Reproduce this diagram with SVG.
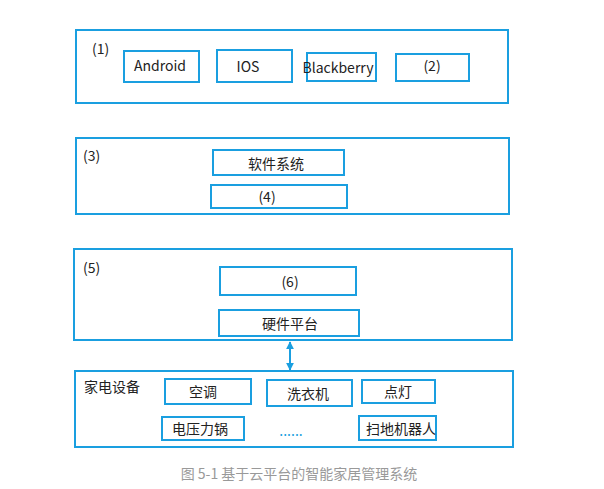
<svg xmlns="http://www.w3.org/2000/svg" width="604" height="489" viewBox="0 0 604 489">
<defs>
<style>
rect{fill:#fff;stroke:#1a9fe0;stroke-width:2}
text{font-family:"Noto Sans CJK SC","Noto Sans",sans-serif;fill:#222;font-size:14px}
.c{text-anchor:middle}
</style>
<marker id="a" viewBox="0 0 10 10" refX="9" refY="5" markerWidth="4" markerHeight="4" orient="auto-start-reverse"><path d="M0 0L10 5L0 10z" fill="#1a9fe0"/></marker>
</defs>
<rect width="604" height="489" style="stroke:none"/>
<g id="g1"><rect x="76" y="30" width="432" height="73"/><text x="92" y="54" font-size="12">(1)</text></g>
<g id="android"><rect x="124" y="51" width="75" height="31"/><text class="c" x="160" y="71">Android</text></g>
<g id="ios"><rect x="217" y="50" width="75" height="32"/><text class="c" x="248" y="72">IOS</text></g>
<g id="bb"><rect x="307" y="53" width="69" height="28"/><text class="c" x="338" y="73" font-size="11">Blackberry</text></g>
<g id="n2"><rect x="396" y="54" width="73" height="27"/><text class="c" x="432" y="71" font-size="15">(2)</text></g>
<g id="g3"><rect x="76" y="138" width="433" height="76"/><text x="83" y="161" font-size="15">(3)</text></g>
<g id="soft"><rect x="213" y="150" width="131" height="25"/><text class="c" x="276" y="169">软件系统</text></g>
<g id="n4"><rect x="211" y="185" width="136" height="23"/><text class="c" x="267" y="202" font-size="13">(4)</text></g>
<g id="g5"><rect x="74" y="249" width="438" height="91"/><text x="83" y="273" font-size="15">(5)</text></g>
<g id="n6"><rect x="220" y="267" width="136" height="28"/><text class="c" x="290" y="287" font-size="16">(6)</text></g>
<g id="hw"><rect x="219" y="310" width="140" height="26"/><text class="c" x="290" y="329">硬件平台</text></g>
<g id="home"><rect x="75" y="371" width="438" height="76"/><text x="84" y="392">家电设备</text></g>
<g id="ac"><rect x="165" y="379" width="86" height="25"/><text class="c" x="203" y="397">空调</text></g>
<g id="wm"><rect x="267" y="380" width="85" height="26"/><text class="c" x="308" y="399">洗衣机</text></g>
<g id="lt"><rect x="362" y="380" width="73" height="23"/><text class="c" x="398" y="397">点灯</text></g>
<g id="pc"><rect x="162" y="417" width="82" height="23"/><text class="c" x="200" y="434">电压力锅</text></g>
<g id="rb"><rect x="359" y="416" width="77" height="24"/><text class="c" x="401" y="434" font-size="12">扫地机器人</text></g>
<text class="c" x="291" y="436" font-size="11" style="fill:#1a9fe0">......</text>
<g id="connectors"><line x1="290" y1="342" x2="290" y2="370" stroke="#1a9fe0" stroke-width="2" marker-start="url(#a)" marker-end="url(#a)"/></g>
<text class="c" x="299" y="479" font-size="10" style="fill:#999">图 5-1 基于云平台的智能家居管理系统</text>
</svg>
